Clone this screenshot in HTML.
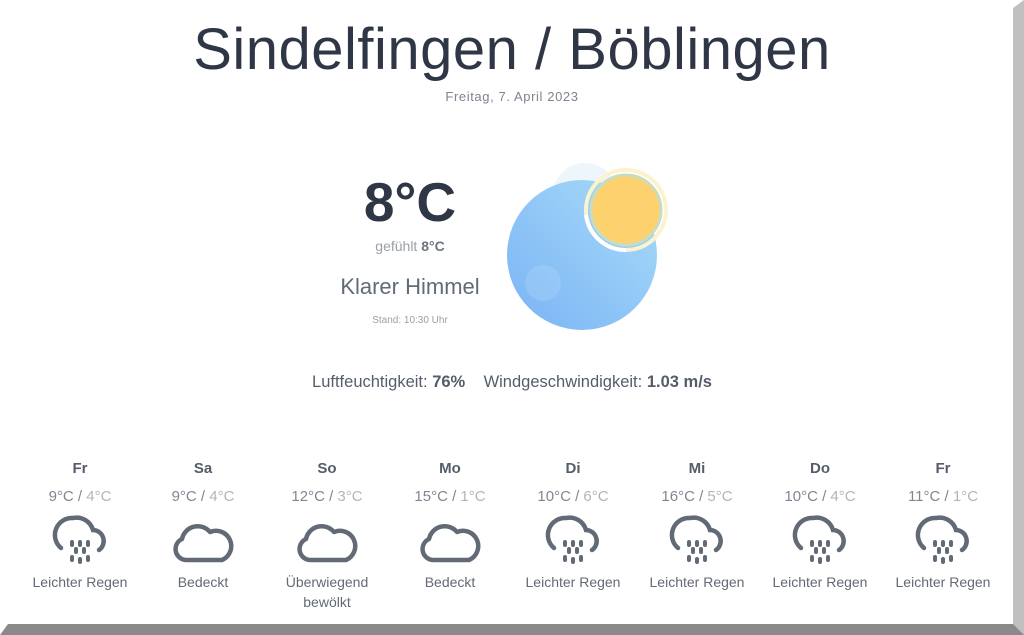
<!DOCTYPE html>
<html><head><meta charset="utf-8"><style>
body{margin:0;width:1024px;height:635px;background:#fff;position:relative;overflow:hidden;font-family:"Liberation Sans",sans-serif;color:#4a5260}
.a{position:absolute;text-align:center;white-space:nowrap}
.col{position:absolute;top:459px;width:124px;text-align:center}
.d{font-weight:bold;font-size:15px;color:#555d6a;height:20px;line-height:20px}
.t{font-size:15px;color:#808791;height:20px;line-height:20px;margin-top:8px}
.t span{color:#b0b5bc}
.l{font-size:14px;color:#626a76;line-height:20px;margin-top:2px}
svg.i{display:block;margin:5px auto 0;height:58px;width:62px}
</style></head><body>
<div class="a" style="left:0;width:1024px;top:16px;font-size:58px;color:#2f3746;letter-spacing:0.5px">Sindelfingen / Böblingen</div>
<div class="a" style="left:0;width:1024px;top:89px;font-size:13px;letter-spacing:0.6px;color:#7d848e">Freitag, 7. April 2023</div>
<div class="a" style="left:310px;width:200px;top:170px;font-size:55px;font-weight:bold;color:#2f3746">8°C</div>
<div class="a" style="left:310px;width:200px;top:238px;font-size:14px;color:#9aa0a8">gefühlt <b style="color:#6d7480">8°C</b></div>
<div class="a" style="left:310px;width:200px;top:274px;font-size:22px;color:#626a76">Klarer Himmel</div>
<div class="a" style="left:310px;width:200px;top:315px;font-size:10px;color:#9aa0a8">Stand: 10:30 Uhr</div>
<svg class="a" style="left:490px;top:155px" width="190" height="185">
<defs><linearGradient id="g" x1="0" y1="1" x2="1" y2="0"><stop offset="0" stop-color="#7ab3f5"/><stop offset="1" stop-color="#a8dcf8"/></linearGradient></defs>
<circle cx="95" cy="40" r="32" fill="#eef6fb"/>
<circle cx="92" cy="100" r="75" fill="url(#g)"/>
<circle cx="53" cy="128" r="18" fill="#fff" opacity="0.12"/>
<circle cx="136" cy="55" r="40" fill="none" stroke="#fbf3cf" stroke-width="4"/>
<path d="M96 60 A40 40 0 0 0 136 95" fill="none" stroke="#fff" stroke-width="4"/>
<circle cx="136" cy="55" r="35" fill="#fed16f" stroke="#c8dcc0" stroke-width="3"/>
</svg>
<div class="a" style="left:0;width:1024px;top:373px;font-size:16.5px;color:#555d6a">Luftfeuchtigkeit: <b>76%</b>&nbsp;&nbsp;&nbsp; Windgeschwindigkeit: <b>1.03 m/s</b></div>

<svg width="0" height="0" style="position:absolute"><defs>
<g id="rain" fill="none" stroke="#626a76" stroke-width="4.5" stroke-linecap="round"><path d="M12 36 A17 17 0 0 1 24 6 A17 17 0 0 1 44 18 A11 11 0 0 1 50 38"/><g stroke-width="4"><path d="M23 30v3M31 30v3M39 30v3M27 37v3M35 37v3M23 45v3M31 47v3M39 45v3"/></g></g>
<g id="cloud" fill="none" stroke="#626a76" stroke-width="4.5" stroke-linejoin="round"><path d="M15 48 A11 11 0 0 1 10 27 A16 16 0 0 1 38 20 A12 12 0 0 1 50 48 Z"/></g>
</defs></svg>

<div class="col" style="left:18px"><div class="d">Fr</div><div class="t">9°C / <span>4°C</span></div><svg class="i" viewBox="0 0 62 58"><use href="#rain"/></svg><div class="l">Leichter Regen</div></div>
<div class="col" style="left:141px"><div class="d">Sa</div><div class="t">9°C / <span>4°C</span></div><svg class="i" viewBox="0 0 62 58"><use href="#cloud"/></svg><div class="l">Bedeckt</div></div>
<div class="col" style="left:265px"><div class="d">So</div><div class="t">12°C / <span>3°C</span></div><svg class="i" viewBox="0 0 62 58"><use href="#cloud"/></svg><div class="l">Überwiegend<br>bewölkt</div></div>
<div class="col" style="left:388px"><div class="d">Mo</div><div class="t">15°C / <span>1°C</span></div><svg class="i" viewBox="0 0 62 58"><use href="#cloud"/></svg><div class="l">Bedeckt</div></div>
<div class="col" style="left:511px"><div class="d">Di</div><div class="t">10°C / <span>6°C</span></div><svg class="i" viewBox="0 0 62 58"><use href="#rain"/></svg><div class="l">Leichter Regen</div></div>
<div class="col" style="left:635px"><div class="d">Mi</div><div class="t">16°C / <span>5°C</span></div><svg class="i" viewBox="0 0 62 58"><use href="#rain"/></svg><div class="l">Leichter Regen</div></div>
<div class="col" style="left:758px"><div class="d">Do</div><div class="t">10°C / <span>4°C</span></div><svg class="i" viewBox="0 0 62 58"><use href="#rain"/></svg><div class="l">Leichter Regen</div></div>
<div class="col" style="left:881px"><div class="d">Fr</div><div class="t">11°C / <span>1°C</span></div><svg class="i" viewBox="0 0 62 58"><use href="#rain"/></svg><div class="l">Leichter Regen</div></div>

<svg class="a" style="left:0;top:0" width="1024" height="635">
<polygon points="1013,8 1024,0 1024,635 1013,635" fill="#c0c0c0"/>
<polygon points="8,624 1013,624 1024,635 0,635" fill="#8a8a8a"/>
</svg>
</body></html>
